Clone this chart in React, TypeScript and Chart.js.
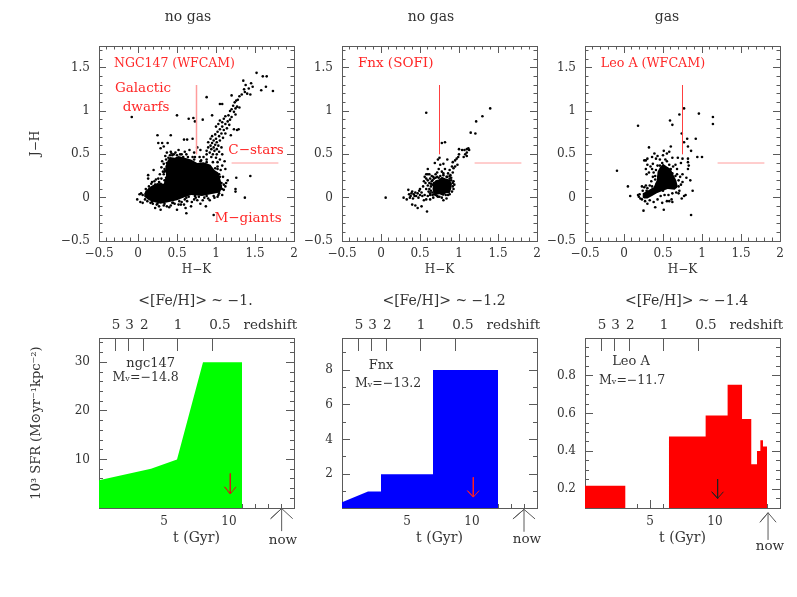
import React, { useEffect, useRef } from "react";
import { Chart, registerables } from "chart.js";

Chart.register(...registerables);

type P = [number, number];

const hkMajor = [-0.5, 0, 0.5, 1, 1.5, 2];
const hkMinor = [-0.4, -0.3, -0.2, -0.1, 0.1, 0.2, 0.3, 0.4, 0.6, 0.7, 0.8, 0.9, 1.1, 1.2, 1.3, 1.4, 1.6, 1.7, 1.8, 1.9];
const jhMajor = [-0.5, 0, 0.5, 1, 1.5];
const jhMinor = [-0.4, -0.3, -0.2, -0.1, 0.1, 0.2, 0.3, 0.4, 0.6, 0.7, 0.8, 0.9, 1.1, 1.2, 1.3, 1.4, 1.6, 1.7];
const tMajor = [5, 10];
const tMinor = [1, 2, 3, 4, 6, 7, 8, 9, 11, 12, 13, 14];
const zTickAt = [1.3, 2.3, 3.46, 6.05, 8.7];
const zLabelAt = [1.32, 2.34, 3.48, 6.08, 9.3, 13.18];
const zLabels = ["5", "3", "2", "1", "0.5", "redshift"];

const sfrNgcMajor = [10, 20, 30];
const sfrNgcMinor = [2, 4, 6, 8, 12, 14, 16, 18, 22, 24, 26, 28, 32, 34];
const sfrFnxMajor = [2, 4, 6, 8];
const sfrFnxMinor = [1, 3, 5, 7, 9];
const sfrLeoMajor = [0.2, 0.4, 0.6, 0.8];
const sfrLeoMinor = [0.15, 0.25, 0.3, 0.35, 0.45, 0.5, 0.55, 0.65, 0.7, 0.75, 0.85, 0.9, 0.95];

const redLineV: P[] = [[0.75, 0.5], [0.75, 1.3]];
const redLineH: P[] = [[1.2, 0.4], [1.8, 0.4]];

const ngcCore: P[] = [[0.08, 0.05], [0.13, 0.11], [0.18, 0.14], [0.25, 0.17], [0.33, 0.16], [0.36, 0.25], [0.35, 0.36], [0.38, 0.43], [0.41, 0.47], [0.47, 0.46], [0.52, 0.48], [0.6, 0.46], [0.68, 0.44], [0.76, 0.4], [0.84, 0.41], [0.93, 0.38], [0.98, 0.32], [1.03, 0.29], [1.06, 0.2], [1.08, 0.12], [1.05, 0.06], [0.93, 0.04], [0.82, 0.02], [0.68, 0.03], [0.58, 0.0], [0.5, -0.03], [0.4, -0.05], [0.29, -0.07], [0.2, -0.05], [0.14, -0.03], [0.08, 0.01]];
const ngcStars: P[] = [
  [-0.08, 0.93], [0.5, 0.95], [0.88, 1.16], [0.25, 0.72], [0.42, 0.72], [0.71, 0.92], [0.65, 0.91], [0.73, 0.88], [0.83, 0.9], [0.95, 0.95], [1.08, 1.08], [1.2, 1.18], [1.05, 1.08], [0.59, 0.67], [0.63, 0.67], [0.31, 0.63], [0.38, 0.63], [0.26, 0.63], [0.29, 0.57], [0.33, 0.59], [0.7, 0.68], [1.27, 0.78], [1.23, 0.79], [1.29, 0.79], [1.19, 0.72], [1.26, 0.23], [1.44, 0.25], [1.25, 0.1], [1.25, 0.07], [1.37, 0], [0.97, -0.2], [1.15, 0.2], [1.13, 0.17], [1.1, 0.09], [1.12, 0.13], [0.13, 0.26], [0.13, 0.22], [0.2, 0.32], [0.18, 0.18], [0.62, -0.18], [0.5, -0.14], [0.29, -0.14], [0.22, -0.12], [0.87, -0.1], [0.8, -0.07], [0.68, -0.1], [0.59, -0.08], [0.61, -0.12], [-0.01, -0.02], [0.03, -0.05], [0.04, 0.05], [0.02, 0.04], [0.06, -0.06],
  [1.52, 1.44], [1.35, 1.35], [1.38, 1.3], [1.45, 1.32], [1.42, 1.26], [1.47, 1.28], [1.37, 1.22], [1.4, 1.2], [1.44, 1.19], [1.6, 1.4], [1.65, 1.4], [1.64, 1.28], [1.58, 1.24], [1.73, 1.23], [1.36, 1.25], [1.33, 1.19], [1.3, 1.17], [1.28, 1.13], [1.26, 1.12], [1.24, 1.1], [1.22, 1.06], [1.27, 1.05], [1.3, 1.04], [1.25, 1.03], [1.2, 1.02], [1.18, 1.0], [1.23, 0.99], [1.16, 0.95], [1.2, 0.93], [1.25, 0.96], [1.12, 0.94], [1.1, 0.91], [1.15, 0.88], [1.18, 0.9], [1.08, 0.87], [1.05, 0.89], [1.12, 0.85], [1.17, 0.84], [1.08, 0.82], [1.03, 0.85], [1.0, 0.82], [1.05, 0.79], [1.1, 0.78], [1.14, 0.8], [1.02, 0.76], [1.07, 0.74], [1.12, 0.74], [0.99, 0.73], [1.04, 0.71], [1.09, 0.69], [0.95, 0.71], [1.0, 0.68], [1.05, 0.66], [0.93, 0.68], [0.97, 0.66], [1.01, 0.64], [0.9, 0.64], [0.95, 0.63], [0.99, 0.61], [1.03, 0.6], [0.93, 0.6], [0.97, 0.58], [1.01, 0.56], [1.07, 0.58], [0.9, 0.58], [0.94, 0.56], [0.98, 0.54], [1.04, 0.53], [0.88, 0.54], [0.92, 0.52], [0.96, 0.5], [1.01, 0.5], [1.08, 0.5], [0.88, 0.5], [0.94, 0.47], [1.0, 0.46], [1.05, 0.44], [1.11, 0.42], [1.02, 0.41], [1.08, 0.37], [1.12, 0.33], [1.06, 0.32],
  [0.8, 0.55], [0.76, 0.58], [0.72, 0.52], [0.66, 0.55], [0.6, 0.53], [0.52, 0.55], [0.48, 0.52], [0.43, 0.51], [0.37, 0.52], [0.35, 0.48], [0.31, 0.42], [0.33, 0.39], [0.3, 0.35], [0.32, 0.3], [0.28, 0.27], [0.26, 0.22], [0.23, 0.21], [0.3, 0.22], [0.84, 0.47], [0.79, 0.47], [0.7, 0.47], [0.62, 0.5], [0.56, 0.5], [0.5, 0.49], [0.41, 0.49], [0.88, 0.44], [0.96, 0.41], [1.02, 0.36], [1.04, 0.27], [1.09, 0.24], [1.1, 0.15], [1.08, 0.03], [1.02, 0.01], [0.98, 0.0], [1.04, 0.05], [0.9, -0.01], [0.85, 0.0], [0.78, 0.01], [0.72, -0.02], [0.74, 0.0], [0.65, 0.01], [0.6, -0.02], [0.56, -0.05], [0.52, -0.08], [0.47, -0.07], [0.42, -0.09], [0.37, -0.1], [0.33, -0.09], [0.27, -0.1], [0.24, -0.08], [0.19, -0.07], [0.16, -0.06], [0.12, -0.04], [0.09, -0.02], [0.06, 0.03], [0.1, 0.1], [0.14, 0.13], [0.17, 0.16], [0.21, 0.19], [0.27, 0.18], [0.36, 0.44], [0.39, 0.46],
  [0.33, 0.27], [0.36, 0.23], [0.35, 0.31], [0.34, 0.33], [0.42, 0.53], [0.46, 0.5], [0.58, 0.47], [0.73, 0.47], [0.81, 0.43], [1.06, 0.13], [1.08, 0.1], [1.02, 0.33], [0.4, -0.11], [0.45, -0.06], [0.55, -0.08], [0.63, -0.04], [0.69, -0.05], [0.76, -0.03], [0.83, -0.03], [0.92, -0.03], [0.97, 0.02],
  [0.11, 0.07], [0.16, 0.1], [0.22, 0.15], [0.29, 0.16], [0.34, 0.2], [0.34, 0.3], [0.37, 0.4], [0.44, 0.49], [0.54, 0.5], [0.64, 0.47], [0.72, 0.44], [0.8, 0.42], [0.88, 0.41], [0.99, 0.34], [1.05, 0.24], [1.07, 0.17], [1.03, 0.03], [0.88, 0.02], [0.73, 0.02], [0.62, 0.0], [0.53, -0.04], [0.44, -0.06], [0.34, -0.07], [0.25, -0.07], [0.18, -0.05],
];

const fnxCore: P[] = [[0.66, 0.1], [0.67, 0.17], [0.7, 0.2], [0.74, 0.21], [0.78, 0.24], [0.83, 0.22], [0.88, 0.21], [0.91, 0.16], [0.9, 0.1], [0.88, 0.05], [0.83, 0.05], [0.8, 0.02], [0.75, 0.04], [0.7, 0.03], [0.67, 0.06]];
const fnxStars: P[] = [
  [0.06, 0], [0.58, 0.98], [1.4, 1.03], [1.3, 0.94], [1.22, 0.88], [1.15, 0.75], [1.21, 0.74], [0.82, 0.64], [0.78, 0.63], [0.59, -0.16], [0.29, 0], [0.33, -0.02], [0.35, 0.09], [0.36, 0.04], [0.38, 0.02], [0.4, 0.07], [0.42, 0.04], [0.44, 0.06], [0.45, 0.02], [0.41, -0.01], [0.37, 0], [0.39, 0.05], [0.43, 0.02], [0.47, 0.05], [0.5, 0.1], [0.49, 0.08], [0.52, 0.06], [0.5, 0.03], [0.48, 0], [0.53, 0.02], [0.56, 0.03], [0.55, -0.03], [0.58, -0.02], [0.6, 0.02], [0.63, 0.03], [0.4, -0.08], [0.44, -0.09], [0.47, -0.12], [0.52, -0.1], [0.63, -0.02], [0.8, -0.03], [0.84, -0.01], [0.67, 0], [0.72, 0.02], [0.75, 0.01],
  [1.0, 0.56], [1.04, 0.55], [1.07, 0.55], [1.1, 0.56], [1.12, 0.57], [1.13, 0.55], [1.1, 0.52], [1.08, 0.5], [1.1, 0.48], [1.06, 0.47], [1.0, 0.5], [0.99, 0.47], [0.97, 0.45], [0.95, 0.43], [0.92, 0.41], [0.98, 0.38], [0.95, 0.36], [0.93, 0.34], [0.91, 0.36], [0.88, 0.32], [0.92, 0.29], [0.89, 0.26], [0.86, 0.28], [0.84, 0.24], [0.88, 0.22], [0.9, 0.2], [0.92, 0.17], [0.94, 0.15], [0.93, 0.1], [0.91, 0.07], [0.88, 0.04], [0.75, 0.46], [0.73, 0.44], [0.85, 0.44], [0.76, 0.38], [0.69, 0.4], [0.8, 0.39], [0.74, 0.33], [0.82, 0.33], [0.8, 0.28], [0.7, 0.27], [0.65, 0.25], [0.6, 0.33], [0.58, 0.27], [0.6, 0.27], [0.62, 0.27], [0.56, 0.24], [0.58, 0.22], [0.6, 0.2], [0.63, 0.22], [0.66, 0.2], [0.68, 0.22], [0.72, 0.24], [0.76, 0.25], [0.55, 0.19], [0.57, 0.17], [0.6, 0.14], [0.62, 0.17], [0.64, 0.13], [0.66, 0.15], [0.64, 0.08], [0.66, 0.06], [0.62, 0.1], [0.68, 0.04], [0.7, 0.03], [0.58, 0.1], [0.54, 0.13], [0.86, 0.16], [0.68, 0.17],
  [0.64, 0.16], [0.65, 0.19], [0.63, 0.05], [0.7, 0.23], [0.74, 0.23], [0.8, 0.26], [0.85, 0.24], [0.9, 0.23], [0.93, 0.19], [0.92, 0.13], [0.86, 0.03], [0.78, 0.0], [0.73, 0.01], [0.66, 0.03], [0.61, 0.07], [0.83, 0.03], [0.88, 0.25], [0.78, 0.3], [0.72, 0.29], [0.67, 0.24],
];

const leoCore: P[] = [[0.24, 0.0], [0.24, 0.05], [0.3, 0.08], [0.38, 0.12], [0.42, 0.2], [0.43, 0.3], [0.46, 0.35], [0.5, 0.39], [0.55, 0.36], [0.6, 0.33], [0.63, 0.27], [0.67, 0.2], [0.69, 0.13], [0.65, 0.09], [0.56, 0.1], [0.5, 0.08], [0.42, 0.05], [0.36, 0.02], [0.3, -0.01], [0.26, -0.01]];
const leoStars: P[] = [
  [-0.09, 0.31], [0.18, 0.83], [0.05, 0.13], [0.08, 0.02], [0.77, 1.03], [0.96, 0.97], [1.14, 0.93], [1.14, 0.85], [0.71, 0.96], [0.59, 0.89], [0.62, 0.84], [0.74, 0.74], [0.81, 0.68], [0.92, 0.68], [0.77, 0.64], [0.82, 0.59], [0.86, 0.54], [0.94, 0.47], [1, 0.47], [0.86, -0.2], [0.51, -0.14], [0.25, -0.15], [0.88, 0.08], [0.32, 0.58],
  [0.6, 0.59], [0.51, 0.54], [0.39, 0.51], [0.43, 0.48], [0.5, 0.49], [0.55, 0.51], [0.58, 0.53], [0.3, 0.45], [0.28, 0.43], [0.26, 0.43], [0.36, 0.47], [0.41, 0.45], [0.46, 0.44], [0.53, 0.44], [0.62, 0.46], [0.69, 0.46], [0.75, 0.45], [0.82, 0.45], [0.82, 0.41], [0.83, 0.37], [0.82, 0.33], [0.73, 0.4], [0.66, 0.38], [0.68, 0.33], [0.63, 0.36], [0.37, 0.39], [0.34, 0.36], [0.3, 0.38], [0.36, 0.33], [0.28, 0.33], [0.32, 0.29], [0.38, 0.29], [0.29, 0.27], [0.4, 0.25], [0.43, 0.37], [0.37, 0.24], [0.4, 0.21], [0.35, 0.19], [0.42, 0.16], [0.33, 0.14], [0.26, 0.12], [0.28, 0.14], [0.23, 0.13], [0.3, 0.11], [0.36, 0.13], [0.29, 0.08], [0.24, 0.08], [0.2, 0.04], [0.19, 0.01], [0.18, 0.03], [0.21, -0.01], [0.23, -0.02], [0.27, -0.04], [0.3, -0.07], [0.33, -0.03], [0.38, -0.05], [0.4, -0.11], [0.43, -0.02], [0.47, 0.02], [0.49, -0.06], [0.55, -0.04], [0.58, -0.04], [0.61, -0.02], [0.62, -0.05], [0.52, 0.03], [0.57, 0.03], [0.62, 0.05], [0.67, 0.06], [0.7, 0.05], [0.74, -0.01], [0.77, 0.02], [0.79, 0.03], [0.71, 0.08], [0.66, 0.12], [0.7, 0.13], [0.73, 0.15], [0.75, 0.18], [0.7, 0.2], [0.72, 0.24], [0.68, 0.27], [0.66, 0.25], [0.75, 0.27], [0.8, 0.23], [0.85, 0.2], [0.62, 0.28], [0.6, 0.33], [0.58, 0.38], [0.55, 0.42], [0.49, 0.4], [0.46, 0.37], [0.41, 0.32], [0.44, 0.24], [0.48, 0.13], [0.36, 0.09], [0.39, 0.06], [0.5, 0.08],
];

const ngcSfr: P[] = [[0, 5.7], [4, 8.1], [6, 10], [8, 30], [11, 30], [11, 0]];
const fnxSfr: P[] = [[0, 0.38], [2, 1], [3, 1], [3, 2], [7, 2], [7, 8], [12, 8], [12, 0.05]];
const leoSfr: P[] = [[0, 0.218], [3.1, 0.218], [3.1, 0.1], [6.46, 0.1], [6.46, 0.478], [9.28, 0.478], [9.28, 0.59], [10.97, 0.59], [10.97, 0.753], [12.08, 0.753], [12.08, 0.571], [12.79, 0.571], [12.79, 0.332], [13.23, 0.332], [13.23, 0.402], [13.49, 0.402], [13.49, 0.459], [13.69, 0.459], [13.69, 0.425], [14, 0.425], [14, 0.1]];

const ngcArrow: P[] = [[10.1, 7.1], [10.1, 2.9], [9.66, 4.35], [10.1, 2.9], [10.54, 4.35]];
const ngcNow: P[] = [[14.05, -4.76], [14.05, -0.1], [13.2, -2.2], [14.05, -0.1], [14.9, -2.2]];
const fnxArrow: P[] = [[10.1, 1.82], [10.1, 0.68], [9.65, 1.05], [10.1, 0.68], [10.55, 1.05]];
const fnxNow: P[] = [[14, -1.32], [14, -0.03], [13.15, -0.58], [14, -0.03], [14.85, -0.58]];
const leoArrow: P[] = [[10.2, 0.253], [10.2, 0.151], [9.75, 0.186], [10.2, 0.151], [10.65, 0.186]];
const leoNow: P[] = [[14.08, -0.069], [14.08, 0.075], [13.46, 0.0245], [14.08, 0.075], [14.7, 0.0245]];

type Note = { text: string; x: number; y: number; color: string; size: number };
const RED = "#ff2828";
const INK = "#333333";
const AXIS = "#5a5a5a";
const FONT = "'DejaVu Serif'";

const ngcTopNotes: Note[] = [
  { text: "NGC147 (WFCAM)", x: 0.468, y: 1.55, color: RED, size: 12.5 },
  { text: "Galactic", x: 0.064, y: 1.254, color: RED, size: 13.5 },
  { text: "dwarfs", x: 0.103, y: 1.046, color: RED, size: 13.5 },
  { text: "C\u2212stars", x: 1.513, y: 0.55, color: RED, size: 13.5 },
  { text: "M\u2212giants", x: 1.41, y: -0.246, color: RED, size: 13.5 },
];
const fnxTopNotes: Note[] = [{ text: "Fnx (SOFI)", x: 0.188, y: 1.55, color: RED, size: 13.5 }];
const leoTopNotes: Note[] = [{ text: "Leo A (WFCAM)", x: 0.372, y: 1.55, color: RED, size: 12.7 }];
const ngcBotNotes: Note[] = [
  { text: "ngc147", x: 3.98, y: 29.7, color: INK, size: 13 },
  { text: "M\u1D65=\u221214.8", x: 3.59, y: 26.8, color: INK, size: 12.5 },
  { text: "now", x: 14.15, y: -6.67, color: INK, size: 13.5 },
];
const fnxBotNotes: Note[] = [
  { text: "Fnx", x: 3, y: 8.24, color: INK, size: 13 },
  { text: "M\u1D65=\u221213.2", x: 3.54, y: 7.2, color: INK, size: 12.5 },
  { text: "now", x: 14.23, y: -1.74, color: INK, size: 13.5 },
];
const leoBotNotes: Note[] = [
  { text: "Leo A", x: 3.54, y: 0.876, color: INK, size: 13 },
  { text: "M\u1D65=\u221211.7", x: 3.62, y: 0.775, color: INK, size: 12.5 },
  { text: "now", x: 14.23, y: -0.104, color: INK, size: 13.5 },
];

const notesPlugin = (notes: Note[]) => ({
  id: "notes",
  afterDatasetsDraw(chart: any) {
    const { ctx, scales } = chart;
    ctx.save();
    ctx.textAlign = "center";
    ctx.textBaseline = "middle";
    for (const n of notes) {
      ctx.font = `${n.size}px ${FONT}`;
      ctx.fillStyle = n.color;
      ctx.fillText(n.text, scales.x.getPixelForValue(n.x), scales.y.getPixelForValue(n.y));
    }
    ctx.restore();
  },
});

const fixSize = (size: number) => (s: any) => {
  if (s.isHorizontal()) s.height = size;
  else s.width = size;
  s.paddingLeft = s.paddingRight = s.paddingTop = s.paddingBottom = 0;
};

const minusText = (v: any) => String(v).replace("-", "\u2212");

function axis(o: {
  axis: "x" | "y"; position: string; min: number; max: number; at: number[]; len: number; main?: boolean;
  size?: number; labels?: boolean; gap?: number; tickSize?: number; text?: (v: number, i: number) => string; title?: string; titlePad?: number; titleSize?: number; hideTicks?: boolean;
}) {
  return {
    type: "linear",
    axis: o.axis,
    position: o.position,
    min: o.min,
    max: o.max,
    weight: o.main ? 1 : 0,
    afterBuildTicks: (s: any) => { s.ticks = o.at.map((value) => ({ value })); },
    afterFit: fixSize(o.main ? o.size ?? 0 : 0),
    border: { display: !!o.main, color: AXIS, width: 1 },
    grid: {
      drawOnChartArea: false, drawTicks: true, tickLength: -o.len, lineWidth: 1,
      color: AXIS, tickColor: o.hideTicks ? "rgba(0,0,0,0)" : AXIS,
    },
    ticks: {
      display: !!o.labels, autoSkip: false, maxRotation: 0, minRotation: 0, includeBounds: false,
      padding: (o.gap ?? 0) + o.len, color: INK, font: { family: FONT, size: o.tickSize ?? 12 },
      callback: (v: any, i: number) => (o.text ? o.text(v, i) : minusText(v)),
    },
    title: o.title
      ? { display: true, text: o.title, color: INK, font: { family: FONT, size: o.titleSize ?? 12 }, padding: { top: 0, bottom: o.titlePad ?? 0 } }
      : { display: false },
  };
}

function seriesLine(data: P[], color: string, width = 1) {
  return { data, showLine: true, pointRadius: 0, borderColor: color, borderWidth: width, fill: false, clip: false as const, xAxisID: "x", yAxisID: "y" };
}

type Panel = {
  left: number; top: number; L: number; R: number; T: number; B: number; h: number;
  title: string; titlePadBottom: number; config: { scales: any; datasets: any[]; notes: Note[] };
};

function topScalesFor(L: number, R: number, yTitle?: string) {
  const xr = { axis: "x" as const, min: -0.5, max: 2 };
  const yr = { axis: "y" as const, min: -0.5, max: 1.75 };
  return {
    x: axis({ ...xr, position: "bottom", at: hkMajor, len: 7, main: true, size: 44, labels: true, gap: 6, title: "H\u2212K", titlePad: 8 }),
    xm: axis({ ...xr, position: "bottom", at: hkMinor, len: 3.5 }),
    xt: axis({ ...xr, position: "top", at: hkMajor, len: 7, main: true, size: 0 }),
    xtm: axis({ ...xr, position: "top", at: hkMinor, len: 3.5 }),
    y: axis({ ...yr, position: "left", at: jhMajor, len: 7, main: true, size: L, labels: true, gap: 9, title: yTitle, titlePad: 11 }),
    ym: axis({ ...yr, position: "left", at: jhMinor, len: 3.5 }),
    yr: axis({ ...yr, position: "right", at: jhMajor, len: 7, main: true, size: R }),
    yrm: axis({ ...yr, position: "right", at: jhMinor, len: 3.5 }),
  };
}

function botScales(L: number, R: number, yMin: number, yMax: number, major: number[], minor: number[], yTitle?: string) {
  const xr = { axis: "x" as const, min: 0, max: 15 };
  const yr = { axis: "y" as const, min: yMin, max: yMax };
  return {
    x: axis({ ...xr, position: "bottom", at: tMajor, len: 8, main: true, size: 50, labels: true, gap: 6.5, title: "t (Gyr)", titlePad: 11, titleSize: 14 }),
    xm: axis({ ...xr, position: "bottom", at: tMinor, len: 4 }),
    xt: axis({ ...xr, position: "top", at: zLabelAt, len: 0, main: true, size: 26, labels: true, gap: 4, tickSize: 13.5, hideTicks: true, text: (_v, i) => zLabels[i] }),
    xtm: axis({ ...xr, position: "top", at: zTickAt, len: 13 }),
    y: axis({ ...yr, position: "left", at: major, len: 8, main: true, size: L, labels: true, gap: 9, title: yTitle, titlePad: 11, titleSize: 13 }),
    ym: axis({ ...yr, position: "left", at: minor, len: 4 }),
    yr: axis({ ...yr, position: "right", at: major, len: 8, main: true, size: R }),
    yrm: axis({ ...yr, position: "right", at: minor, len: 4 }),
  };
}

function topSets(core: P[], stars: P[], vColor: string, hColor: string, vWidth = 1) {
  return [
    seriesLine(redLineV, vColor, vWidth),
    seriesLine(redLineH, hColor),
    { data: stars, showLine: false, pointRadius: 1.3, pointBorderWidth: 0, backgroundColor: "#000000", xAxisID: "x", yAxisID: "y" },
    { data: core, showLine: true, pointRadius: 0, borderWidth: 0, backgroundColor: "#000000", fill: "shape", xAxisID: "x", yAxisID: "y" },
  ];
}

function sfrSets(area: P[], fillColor: string, arrow: P[], arrowColor: string, now: P[]) {
  return [
    seriesLine(arrow, arrowColor),
    seriesLine(now, AXIS),
    { data: area, showLine: true, pointRadius: 0, borderWidth: 0, backgroundColor: fillColor, fill: "start", xAxisID: "x", yAxisID: "y" },
  ];
}

const SFR_TITLE = "10\u00B3 SFR (M\u2299yr\u207B\u00B9kpc\u207B\u00B2)";

const panels: Panel[] = [
  { left: 29, top: 4, L: 70, R: 53, T: 42, B: 44, h: 195, title: "no gas", titlePadBottom: 23,
    config: { scales: topScalesFor(70, 53, "J\u2212H"), datasets: topSets(ngcCore, ngcStars, "#ff9c9c", "#ff9c9c", 1.5), notes: ngcTopNotes } },
  { left: 302, top: 4, L: 40, R: 23, T: 42, B: 44, h: 195, title: "no gas", titlePadBottom: 23,
    config: { scales: topScalesFor(40, 23), datasets: topSets(fnxCore, fnxStars, "#ff4040", "#ff9c9c"), notes: fnxTopNotes } },
  { left: 545, top: 4, L: 40, R: 9, T: 42, B: 44, h: 195, title: "gas", titlePadBottom: 23,
    config: { scales: topScalesFor(40, 9), datasets: topSets(leoCore, leoStars, "#ff4040", "#ff9c9c"), notes: leoTopNotes } },
  { left: 29, top: 288, L: 70, R: 68, T: 50, B: 50, h: 170, title: "<[Fe/H]> ~ \u22121.", titlePadBottom: 5,
    config: { scales: botScales(70, 68, 0, 35, sfrNgcMajor, sfrNgcMinor, SFR_TITLE), datasets: sfrSets(ngcSfr, "#00ff00", ngcArrow, "#d81818", ngcNow), notes: ngcBotNotes } },
  { left: 302, top: 288, L: 40, R: 49, T: 50, B: 50, h: 170, title: "<[Fe/H]> ~ \u22121.2", titlePadBottom: 5,
    config: { scales: botScales(40, 49, 0.05, 9.85, sfrFnxMajor, sfrFnxMinor), datasets: sfrSets(fnxSfr, "#0000ff", fnxArrow, "#ff2020", fnxNow), notes: fnxBotNotes } },
  { left: 545, top: 288, L: 40, R: 48, T: 50, B: 50, h: 170, title: "<[Fe/H]> ~ \u22121.4", titlePadBottom: 5,
    config: { scales: botScales(40, 48, 0.1, 1.0, sfrLeoMajor, sfrLeoMinor), datasets: sfrSets(leoSfr, "#ff0000", leoArrow, "#222222", leoNow), notes: leoBotNotes } },
];

function PanelChart({ p }: { p: Panel }) {
  const ref = useRef<HTMLCanvasElement>(null);
  useEffect(() => {
    const chart = new Chart(ref.current as HTMLCanvasElement, {
      type: "scatter",
      data: { datasets: p.config.datasets },
      options: {
        animation: false,
        responsive: false,
        devicePixelRatio: 1,
        layout: { padding: 0 },
        scales: p.config.scales,
        plugins: {
          legend: { display: false },
          tooltip: { enabled: false },
          title: {
            display: true, text: p.title, color: INK,
            font: { family: FONT, size: 14, weight: "normal", lineHeight: "12px" },
            padding: { top: 7, bottom: p.titlePadBottom },
          },
        },
      } as any,
      plugins: [notesPlugin(p.config.notes)],
    } as any);
    return () => chart.destroy();
  }, [p]);
  const width = p.L + 195 + p.R;
  const height = p.T + p.h + p.B;
  return (
    <canvas
      ref={ref}
      width={width}
      height={height}
      style={{ position: "absolute", left: p.left, top: p.top, width, height, pointerEvents: "none" }}
    />
  );
}

export default function App() {
  return (
    <div style={{ position: "absolute", left: 0, top: 0, width: 797, height: 597, overflow: "hidden", background: "#fff" }}>
      {panels.map((p, i) => (
        <PanelChart key={i} p={p} />
      ))}
    </div>
  );
}
